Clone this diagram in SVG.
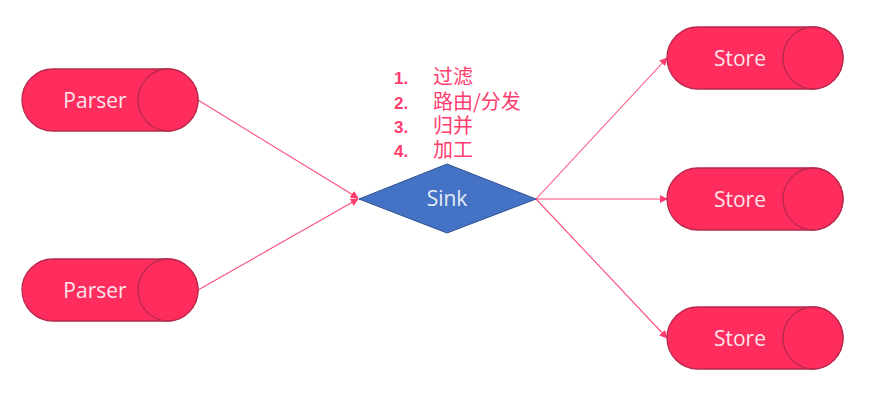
<svg xmlns="http://www.w3.org/2000/svg" width="873" height="402" viewBox="0 0 873 402">
<style>
.pill{fill:#FF2D5E;stroke:#B8284C;stroke-width:1.3}
.lbl{font-family:"Open Sans","Noto Sans",sans-serif;font-size:21px;fill:#FBE3EA;text-anchor:middle;dominant-baseline:central}
.conn{stroke:#FF4D7A;stroke-width:1.1;fill:none;marker-end:url(#ah)}
.list{font-family:"Noto Sans CJK SC","Noto Sans",sans-serif;font-size:20px;fill:#FF3C6E}
.num{font-family:"Liberation Sans","Noto Sans",sans-serif;font-weight:bold;font-size:17px;fill:#FF3C6E}
</style>
<defs>
<marker id="ah" viewBox="0 0 10 10" refX="9" refY="5" markerWidth="8" markerHeight="8" markerUnits="userSpaceOnUse" orient="auto">
<path d="M0,0 L10,5 L0,10 z" fill="#FF3C6E"/>
</marker>
</defs>
<rect width="873" height="402" fill="#FFFFFF"/>
<g id="connectors">
<line class="conn" x1="198" y1="100" x2="358" y2="198"/>
<line class="conn" x1="198" y1="290" x2="358" y2="199"/>
<line class="conn" x1="536" y1="199" x2="667" y2="58"/>
<line class="conn" x1="536" y1="199" x2="667" y2="199"/>
<line class="conn" x1="536" y1="199" x2="667" y2="338"/>
</g>
<g id="parser1">
<rect class="pill" x="22" y="69" width="176" height="62" rx="31" ry="31"/>
<ellipse class="pill" cx="168" cy="100" rx="30" ry="31"/>
<text class="lbl" x="95" y="100">Parser</text>
</g>
<g id="parser2">
<rect class="pill" x="22" y="259" width="176" height="62" rx="31" ry="31"/>
<ellipse class="pill" cx="168" cy="290" rx="30" ry="31"/>
<text class="lbl" x="95" y="290">Parser</text>
</g>
<g id="sink">
<polygon points="359,199 447,164 536,199 447,233" fill="#4472C4" stroke="#2F528F" stroke-width="1"/>
<text class="lbl" x="447" y="198" style="fill:#E6ECF7">Sink</text>
</g>
<g id="steps">
<text class="num"><tspan x="394" y="84">1.</tspan><tspan x="394" y="109">2.</tspan><tspan x="394" y="133">3.</tspan><tspan x="394" y="157">4.</tspan></text>
<text class="list"><tspan x="433" y="84">过滤</tspan><tspan x="433" y="109">路由/分发</tspan><tspan x="433" y="133">归并</tspan><tspan x="433" y="157">加工</tspan></text>
</g>
<g id="store1">
<rect class="pill" x="667" y="27" width="176" height="62" rx="31" ry="31"/>
<ellipse class="pill" cx="813" cy="58" rx="30" ry="31"/>
<text class="lbl" x="740" y="58">Store</text>
</g>
<g id="store2">
<rect class="pill" x="667" y="168" width="176" height="62" rx="31" ry="31"/>
<ellipse class="pill" cx="813" cy="199" rx="30" ry="31"/>
<text class="lbl" x="740" y="199">Store</text>
</g>
<g id="store3">
<rect class="pill" x="667" y="307" width="176" height="62" rx="31" ry="31"/>
<ellipse class="pill" cx="813" cy="338" rx="30" ry="31"/>
<text class="lbl" x="740" y="338">Store</text>
</g>
</svg>
